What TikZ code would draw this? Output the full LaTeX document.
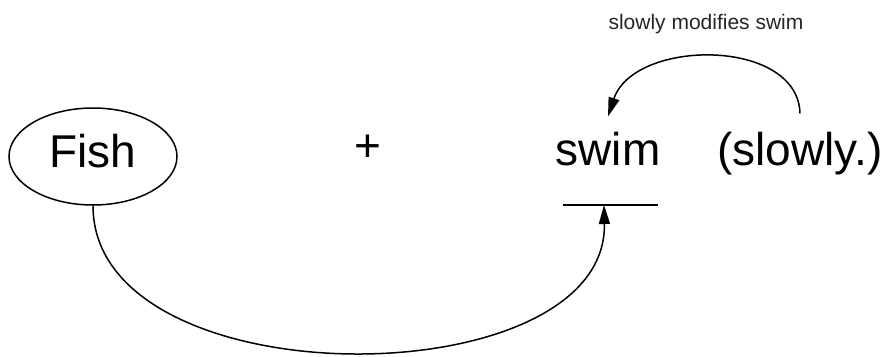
\documentclass[tikz,border=0pt]{standalone}
\usepackage{fontspec}
\setmainfont{Liberation Sans}
\usepackage{tikz}
\usetikzlibrary{arrows.meta,positioning,shapes.geometric}

\begin{document}
\begin{tikzpicture}[
  x=1pt, y=-1pt, >={Triangle[length=19pt,width=11pt]},
  word/.style={inner sep=0pt, anchor=base, font=\fontsize{46}{50}\selectfont},
  oval/.style={draw, ellipse, line width=1.5pt, inner sep=0pt, minimum width=168pt, minimum height=97pt, text depth=12pt, font=\fontsize{46}{50}\selectfont},
  note/.style={inner sep=0pt, anchor=base, text=black!85, font=\fontsize{21}{24}\selectfont},
  arrow/.style={->, line width=1.5pt, black}
]
\useasboundingbox (0,0) rectangle (888,356);

\node[oval] (fish) at (93,156.5) {Fish};
\node[word] (plus) at (368,161) {+};
\node[word] (swim) at (608,165) {swim};
\node[word] (slowly) at (800,165) {(slowly.)};
\node[note] (mod) at (706,29) {slowly modifies swim};
\coordinate (slot) at (604,205);

% blank under swim
\draw[line width=1.5pt] ([xshift=-41pt]slot) -- ([xshift=54pt]slot);

\draw[arrow] (fish.south) .. controls +(0,196) and +(4,194) .. (slot);
\draw[arrow] ([yshift=18pt]slowly.north) .. controls +(-2,-76) and +(26,-78) .. ([yshift=15pt]swim.north);

\end{tikzpicture}
\end{document}
